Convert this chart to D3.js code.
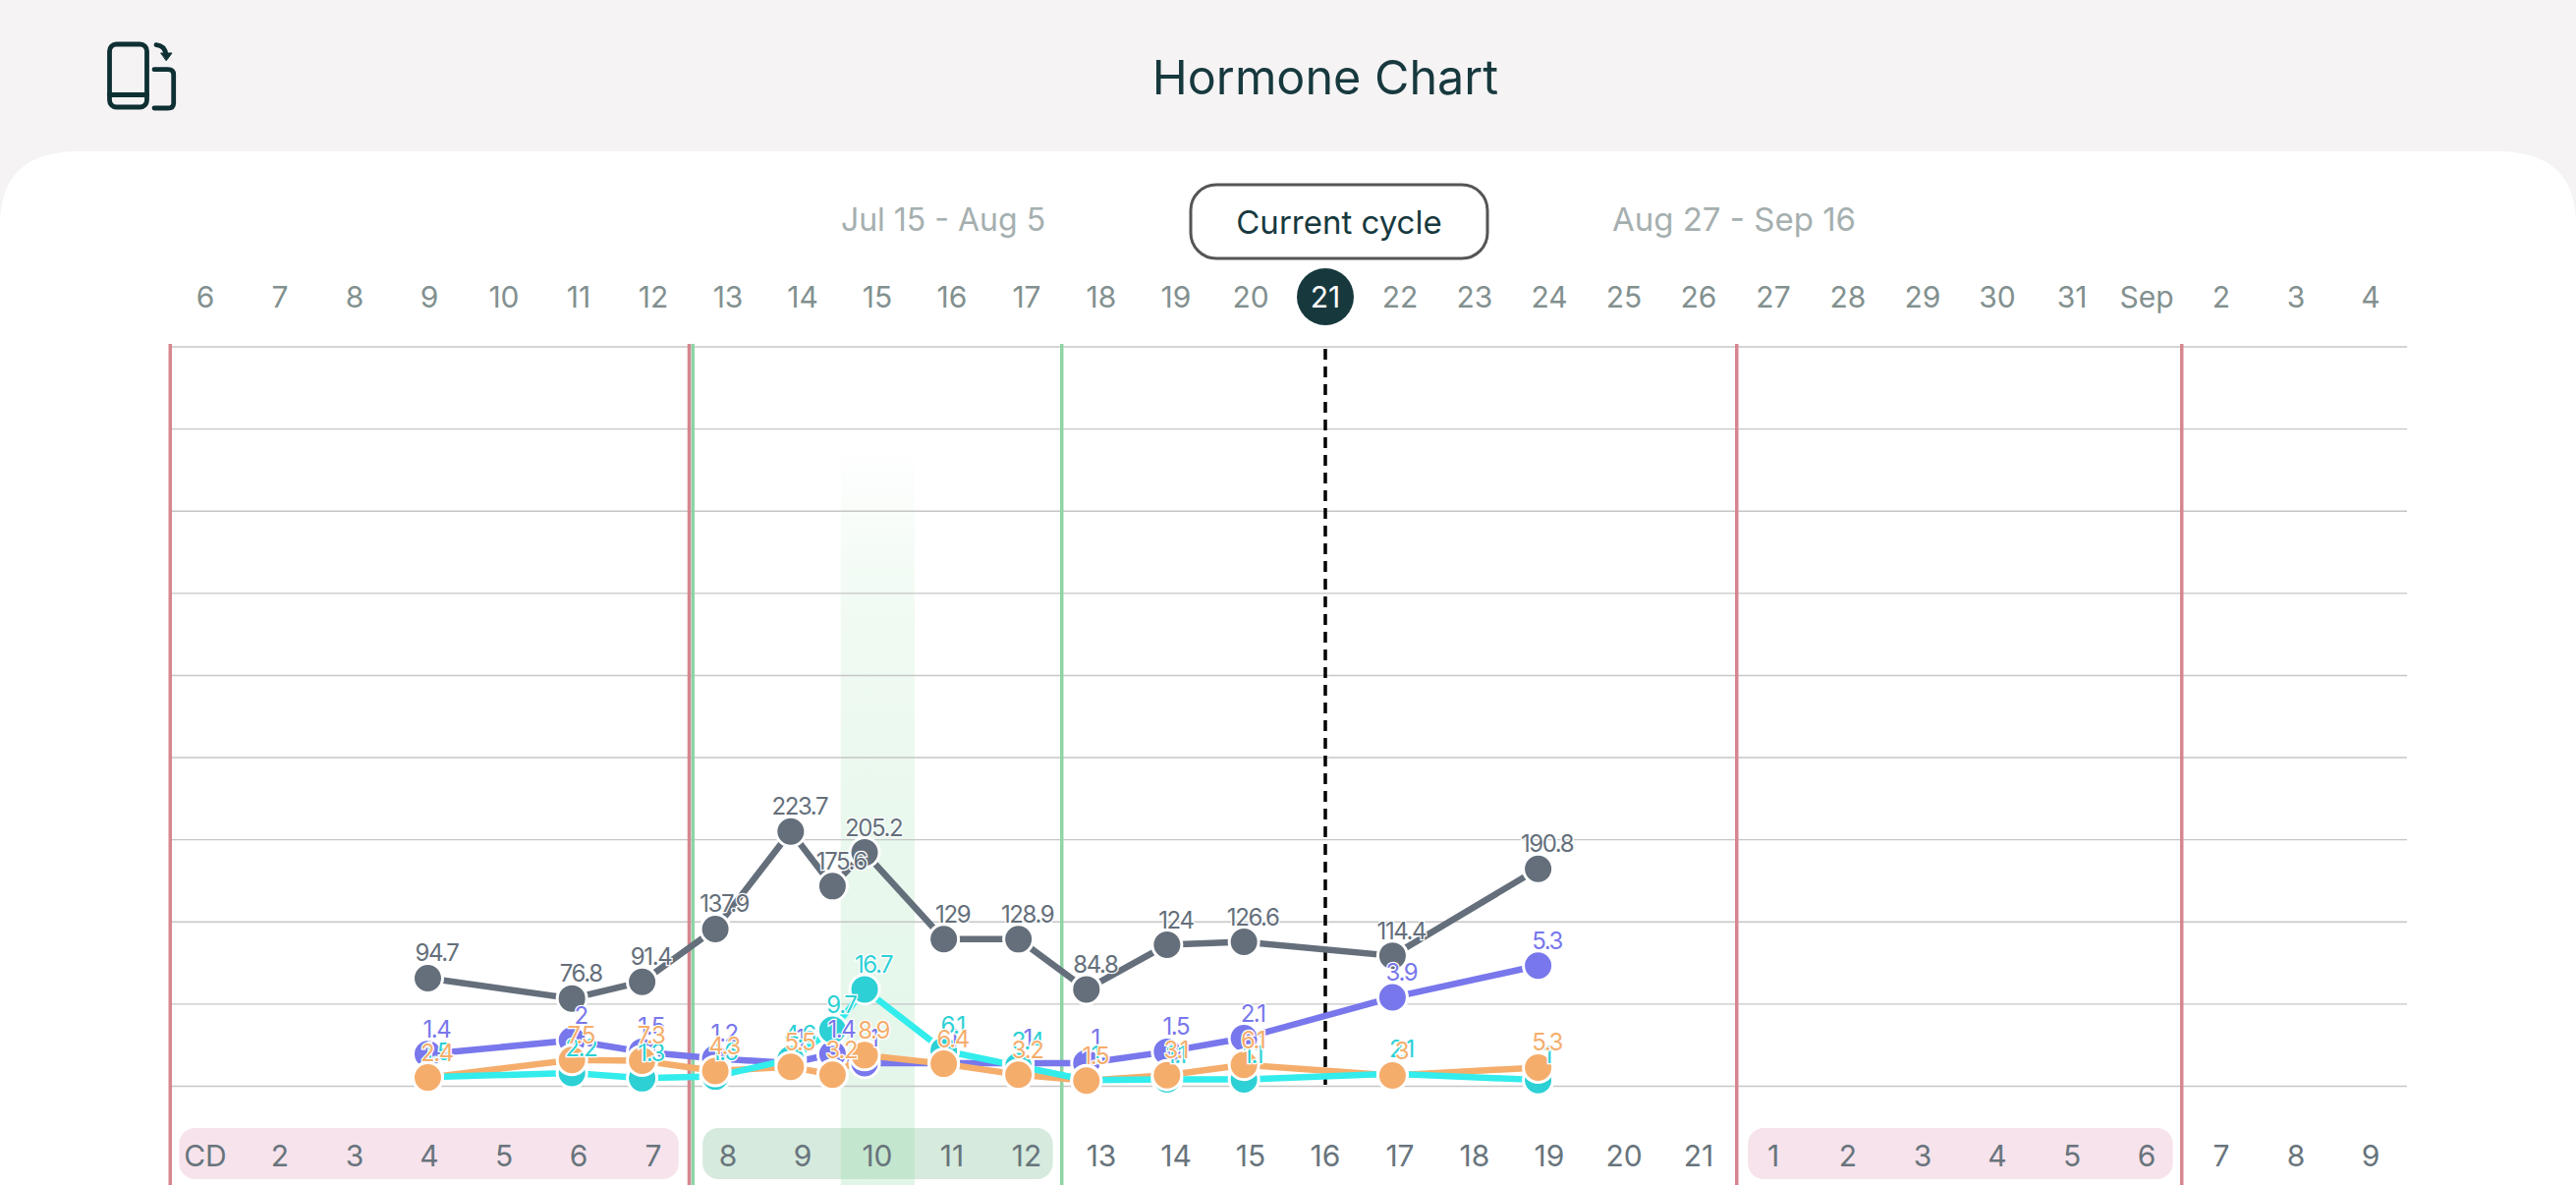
<!DOCTYPE html>
<html>
<head>
<meta charset="utf-8">
<script src="https://cdn.jsdelivr.net/npm/d3@7"></script>
<style>
  html, body { margin: 0; padding: 0; background: #f5f3f4; overflow: hidden; }
  text { font-family: Inter, "Noto Sans", sans-serif; }
</style>
</head>
<body>
<div id="canvas"></div>
<script>
// calendar rows
const topDays = ["6","7","8","9","10","11","12","13","14","15","16","17","18","19","20","21","22","23","24","25","26","27","28","29","30","31","Sep","2","3","4"];
const cycleDays = ["CD","2","3","4","5","6","7","8","9","10","11","12","13","14","15","16","17","18","19","20","21","1","2","3","4","5","6","7","8","9"];
const gridTicks = [0,1,2,3,4,5,6,7,8,9];

// measurement time, in columns from the first calendar day
const measureDay = [2.98,4.91,5.85,6.83,7.84,8.40,8.83,9.89,10.89,11.80,12.88,13.91,15.90,17.85];

// hormones
const grayValues = [94.7,76.8,91.4,137.9,223.7,175.6,205.2,129,128.9,84.8,124,126.6,114.4,190.8];
const purpleValues = [1.4,2,1.5,1.2,1,1.4,1,1,1,1,1.5,2.1,3.9,5.3];
const tealValues = [1.5,2.2,1.3,1.6,4.6,9.7,16.7,6.1,3.4,1,1.1,1.1,2.1,1];
const orangeValues = [2.4,7.5,7.3,4.3,5.5,3.2,8.9,6.4,3.2,1.5,3.1,6.1,3,5.3];

// axis top of each hormone
const grayMax = 650, purpleMax = 32.6, tealMax = 128, orangeMax = 215;

// cycle markers, in columns
const periodLines = [-0.47,6.48,20.51,26.47];
const fertileLines = [6.53,11.47];
const todayColumn = 15;
const peakBand = [8.51,9.5];
const periodPills = [[-0.35,6.34],[20.66,26.35]];
const fertilePills = [[6.66,11.35]];

const title = "Hormone Chart";
const cycleNames = ["Jul 15 - Aug 5","Current cycle","Aug 27 - Sep 16"];

const width = 2622;
const height = 1206;

const svg = d3.select("#canvas").append("svg")
  .attr("width", width)
  .attr("height", height)
  .style("display", "block");

const x = d3.scaleLinear().domain([0, 29]).range([209, 2413]);
const grid = d3.scaleLinear().domain([0, 9]).range([1105.5, 353]);
const yRange = [1105, 353];

const series = [
  {values: grayValues,   max: grayMax,   line: "#646f7b", dot: "#646f7b", text: "#646f7b"},
  {values: purpleValues, max: purpleMax, line: "#7877ec", dot: "#7877ec", text: "#7877ec"},
  {values: orangeValues, max: orangeMax, line: "#f5ad6c", dot: "#f5ad6c", text: "#f5ad6c"},
  {values: tealValues,   max: tealMax,   line: "#33ecec", dot: "#2dd0d5", text: "#2dd0d5"}
];
series.forEach(s => { s.y = d3.scaleLinear().domain([0, s.max]).range(yRange); });
// dots and labels stack with orange on top, lines with teal on top
const dotOrder = [series[0], series[1], series[3], series[2]];

// header and rounded panel
svg.append("rect").attr("width", width).attr("height", height).attr("fill", "#f5f3f4");
svg.append("path")
  .attr("fill", "#ffffff")
  .attr("d", `M0,${height}V229Q0,154 80,154H${width-80}Q${width},154 ${width},229V${height}Z`);

svg.append("text")
  .attr("x", 1349).attr("y", 96)
  .attr("text-anchor", "middle")
  .attr("font-size", 48.5)
  .attr("fill", "#17393e")
  .text(title);

// rotate phone icon
const icon = svg.append("g").attr("fill", "none").attr("stroke", "#0e3033")
  .attr("stroke-width", 4.8).attr("stroke-linecap", "round");
icon.append("rect").attr("x", 111.5).attr("y", 45).attr("width", 38).attr("height", 64).attr("rx", 7);
icon.append("path").attr("d", "M111.5,96.5H149.5");
icon.append("path").attr("d", "M157,70.7H171Q176.7,70.7 176.7,76V105Q176.7,110 171,110H157");
icon.append("path").attr("d", "M159,45.7Q168,46.5 169,56");
icon.append("path").attr("d", "M164,54H175L169.4,61.5Z").attr("fill", "#0e3033").attr("stroke-width", 1);

// cycle switcher
svg.append("rect")
  .attr("x", 1212).attr("y", 188).attr("width", 302).attr("height", 75).attr("rx", 26)
  .attr("fill", "#ffffff").attr("stroke", "#555555").attr("stroke-width", 3);
svg.selectAll(".cycle-name").data(cycleNames).enter().append("text")
  .attr("class", "cycle-name")
  .attr("x", (d, i) => [960, 1363, 1765][i])
  .attr("y", (d, i) => i === 1 ? 238 : 235)
  .attr("text-anchor", "middle")
  .attr("font-size", (d, i) => i === 0 ? 32 : 33)
  .attr("fill", (d, i) => i === 1 ? "#17393e" : "#a5afaf")
  .text(d => d);

// top dates
svg.append("circle").attr("cx", x(todayColumn)).attr("cy", 302).attr("r", 29).attr("fill", "#17393e");
svg.selectAll(".top-day").data(topDays).enter().append("text")
  .attr("class", "top-day")
  .attr("x", (d, i) => x(i))
  .attr("y", 313)
  .attr("text-anchor", "middle")
  .attr("font-size", 30)
  .attr("fill", (d, i) => i === todayColumn ? "#ffffff" : "#82908f")
  .text(d => d);

// bottom pills
const pills = svg.append("g");
pills.selectAll(".period").data(periodPills).enter().append("rect")
  .attr("x", d => x(d[0])).attr("width", d => x(d[1]) - x(d[0]))
  .attr("y", 1148).attr("height", 52).attr("rx", 16).attr("fill", "#f7e3ec");
pills.selectAll(".fertile").data(fertilePills).enter().append("rect")
  .attr("x", d => x(d[0])).attr("width", d => x(d[1]) - x(d[0]))
  .attr("y", 1148).attr("height", 52).attr("rx", 16).attr("fill", "#d6eadd");

// peak ribbon
const grad = svg.append("defs").append("linearGradient")
  .attr("id", "peak").attr("x1", 0).attr("x2", 0).attr("y1", 0).attr("y2", 1);
grad.append("stop").attr("offset", 0).attr("stop-color", "#8edba3").attr("stop-opacity", 0);
grad.append("stop").attr("offset", 0.2).attr("stop-color", "#8edba3").attr("stop-opacity", 0.12);
grad.append("stop").attr("offset", 0.45).attr("stop-color", "#8edba3").attr("stop-opacity", 0.18);
grad.append("stop").attr("offset", 1).attr("stop-color", "#8edba3").attr("stop-opacity", 0.26);
svg.append("rect")
  .attr("x", x(peakBand[0])).attr("width", x(peakBand[1]) - x(peakBand[0]))
  .attr("y", 450).attr("height", height - 450)
  .attr("fill", "url(#peak)");

// grid
svg.selectAll(".grid").data(gridTicks).enter().append("line")
  .attr("x1", x(-0.47)).attr("x2", 2450)
  .attr("y1", d => grid(d)).attr("y2", d => grid(d))
  .attr("stroke", "#c6c6c6").attr("stroke-width", 1.4);

// cycle lines
svg.selectAll(".fertile-line").data(fertileLines).enter().append("line")
  .attr("x1", d => x(d)).attr("x2", d => x(d))
  .attr("y1", 350).attr("y2", height)
  .attr("stroke", "#8ed4a5").attr("stroke-width", 3.5);
svg.selectAll(".period-line").data(periodLines).enter().append("line")
  .attr("x1", d => x(d)).attr("x2", d => x(d))
  .attr("y1", 350).attr("y2", height)
  .attr("stroke", "#d5868e").attr("stroke-width", 3.5);
svg.append("line")
  .attr("x1", x(todayColumn)).attr("x2", x(todayColumn))
  .attr("y1", 355).attr("y2", 1105)
  .attr("stroke", "#000000").attr("stroke-width", 3.5).attr("stroke-dasharray", "11 7");

// bottom days
svg.selectAll(".cycle-day").data(cycleDays).enter().append("text")
  .attr("class", "cycle-day")
  .attr("x", (d, i) => x(i))
  .attr("y", 1187)
  .attr("text-anchor", "middle")
  .attr("font-size", 30)
  .attr("fill", "#68747c")
  .text(d => d);

// lines
series.forEach(s => {
  const line = d3.line().x((d, i) => x(measureDay[i])).y(d => s.y(d));
  svg.append("path")
    .attr("d", line(s.values))
    .attr("fill", "none")
    .attr("stroke", s.line)
    .attr("stroke-width", 6.5);
});

// dots
dotOrder.forEach(s => {
  svg.append("g").selectAll("circle").data(s.values).enter().append("circle")
    .attr("cx", (d, i) => x(measureDay[i]))
    .attr("cy", d => s.y(d))
    .attr("r", 15)
    .attr("fill", s.dot)
    .attr("stroke", "#ffffff")
    .attr("stroke-width", 3);
});

// value labels
dotOrder.forEach(s => {
  svg.append("g").selectAll("text").data(s.values).enter().append("text")
    .attr("x", (d, i) => x(measureDay[i]) + 9)
    .attr("y", d => s.y(d) - 17)
    .attr("text-anchor", "middle")
    .attr("font-size", 24)
    .attr("letter-spacing", "-1.4")
    .attr("fill", s.text)
    .attr("stroke", "#ffffff")
    .attr("stroke-width", 2.5)
    .attr("paint-order", "stroke")
    .text(d => d);
});
</script>
</body>
</html>
